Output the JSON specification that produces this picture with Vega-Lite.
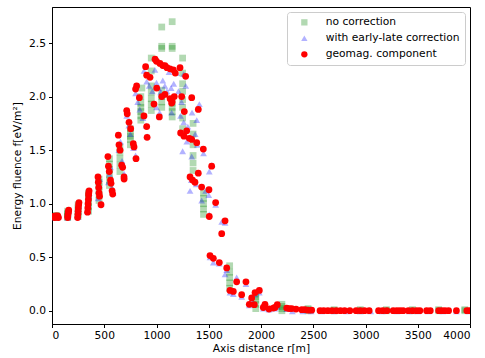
{
  "$schema": "https://vega.github.io/schema/vega-lite/v6.json",
  "width": 418,
  "height": 317,
  "autosize": {"type": "none"},
  "padding": {"left": 52, "top": 7, "right": 15, "bottom": 34},
  "background": "white",
  "config": {
    "font": "DejaVu Sans",
    "view": {"stroke": "black", "strokeWidth": 1},
    "axis": {"grid": false, "domainColor": "black", "tickColor": "black", "tickSize": 3.5, "labelFontSize": 10.7, "titleFontSize": 10.7, "labelColor": "black", "titleColor": "black", "titleFontWeight": "normal", "labelFont": "DejaVu Sans", "titleFont": "DejaVu Sans"}
  },
  "data": {"values": [
    {"s":"no correction","r":40,"f":0.87},{"s":"no correction","r":40,"f":0.875},{"s":"no correction","r":40,"f":0.88},{"s":"no correction","r":40,"f":0.885},{"s":"no correction","r":40,"f":0.89},
    {"s":"no correction","r":150,"f":0.87},{"s":"no correction","r":150,"f":0.88},{"s":"no correction","r":150,"f":0.9},{"s":"no correction","r":150,"f":0.91},{"s":"no correction","r":150,"f":0.93},
    {"s":"no correction","r":250,"f":0.88},{"s":"no correction","r":250,"f":0.9},{"s":"no correction","r":250,"f":0.93},{"s":"no correction","r":250,"f":0.96},{"s":"no correction","r":250,"f":0.99},
    {"s":"no correction","r":350,"f":0.93},{"s":"no correction","r":350,"f":0.97},{"s":"no correction","r":350,"f":1.01},{"s":"no correction","r":350,"f":1.05},{"s":"no correction","r":350,"f":1.08},{"s":"no correction","r":350,"f":1.1},
    {"s":"no correction","r":450,"f":1.03},{"s":"no correction","r":450,"f":1.08},{"s":"no correction","r":450,"f":1.12},{"s":"no correction","r":450,"f":1.16},{"s":"no correction","r":450,"f":1.2},{"s":"no correction","r":450,"f":1.23},
    {"s":"no correction","r":550,"f":1.17},{"s":"no correction","r":550,"f":1.22},{"s":"no correction","r":550,"f":1.27},{"s":"no correction","r":550,"f":1.32},{"s":"no correction","r":550,"f":1.37},{"s":"no correction","r":550,"f":1.42},
    {"s":"no correction","r":650,"f":1.3},{"s":"no correction","r":650,"f":1.36},{"s":"no correction","r":650,"f":1.42},{"s":"no correction","r":650,"f":1.48},{"s":"no correction","r":650,"f":1.53},
    {"s":"no correction","r":750,"f":1.55},{"s":"no correction","r":750,"f":1.6},{"s":"no correction","r":750,"f":1.63},{"s":"no correction","r":750,"f":1.66},{"s":"no correction","r":750,"f":1.7},
    {"s":"no correction","r":850,"f":1.78},{"s":"no correction","r":850,"f":1.82},{"s":"no correction","r":850,"f":1.86},{"s":"no correction","r":850,"f":1.9},{"s":"no correction","r":850,"f":1.94},{"s":"no correction","r":850,"f":2.0},{"s":"no correction","r":860,"f":2.08},
    {"s":"no correction","r":950,"f":1.87},{"s":"no correction","r":950,"f":1.93},{"s":"no correction","r":950,"f":1.98},{"s":"no correction","r":950,"f":2.04},{"s":"no correction","r":950,"f":2.1},{"s":"no correction","r":950,"f":2.24},{"s":"no correction","r":950,"f":2.36},
    {"s":"no correction","r":1050,"f":1.9},{"s":"no correction","r":1050,"f":1.95},{"s":"no correction","r":1050,"f":2.0},{"s":"no correction","r":1050,"f":2.06},{"s":"no correction","r":1050,"f":2.45},{"s":"no correction","r":1050,"f":2.47},{"s":"no correction","r":1050,"f":2.65},
    {"s":"no correction","r":1150,"f":1.81},{"s":"no correction","r":1150,"f":1.86},{"s":"no correction","r":1150,"f":1.9},{"s":"no correction","r":1150,"f":1.94},{"s":"no correction","r":1150,"f":2.45},{"s":"no correction","r":1150,"f":2.47},{"s":"no correction","r":1150,"f":2.7},
    {"s":"no correction","r":1250,"f":1.7},{"s":"no correction","r":1250,"f":1.8},{"s":"no correction","r":1250,"f":1.9},{"s":"no correction","r":1250,"f":1.97},{"s":"no correction","r":1250,"f":2.05},{"s":"no correction","r":1250,"f":2.12},{"s":"no correction","r":1250,"f":2.22},{"s":"no correction","r":1250,"f":2.36},
    {"s":"no correction","r":1350,"f":1.31},{"s":"no correction","r":1350,"f":1.38},{"s":"no correction","r":1350,"f":1.45},{"s":"no correction","r":1350,"f":1.55},{"s":"no correction","r":1350,"f":1.65},{"s":"no correction","r":1350,"f":1.75},
    {"s":"no correction","r":1450,"f":0.9},{"s":"no correction","r":1450,"f":0.95},{"s":"no correction","r":1450,"f":1.0},{"s":"no correction","r":1450,"f":1.05},{"s":"no correction","r":1450,"f":1.1},
    {"s":"no correction","r":1700,"f":0.21},{"s":"no correction","r":1700,"f":0.26},{"s":"no correction","r":1700,"f":0.31},{"s":"no correction","r":1700,"f":0.36},{"s":"no correction","r":1700,"f":0.42},
    {"s":"no correction","r":1950,"f":0.02},{"s":"no correction","r":1950,"f":0.06},{"s":"no correction","r":1950,"f":0.1},{"s":"no correction","r":1950,"f":0.13},{"s":"no correction","r":1950,"f":0.16},
    {"s":"no correction","r":2200,"f":0.0},{"s":"no correction","r":2200,"f":0.02},{"s":"no correction","r":2200,"f":0.04},{"s":"no correction","r":2200,"f":0.06},
    {"s":"no correction","r":2450,"f":0.0},{"s":"no correction","r":2450,"f":0.01},{"s":"no correction","r":2450,"f":0.02},
    {"s":"no correction","r":2700,"f":0.0},{"s":"no correction","r":2700,"f":0.01},
    {"s":"no correction","r":2950,"f":0.0},{"s":"no correction","r":2950,"f":0.01},
    {"s":"no correction","r":3200,"f":0.0},{"s":"no correction","r":3200,"f":0.01},
    {"s":"no correction","r":3450,"f":0.0},{"s":"no correction","r":3450,"f":0.01},
    {"s":"no correction","r":3700,"f":0.0},{"s":"no correction","r":3700,"f":0.01},
    {"s":"no correction","r":3950,"f":0.0},{"s":"no correction","r":3950,"f":0.01},

    {"s":"with early-late correction","r":30,"f":0.87},{"s":"with early-late correction","r":45,"f":0.875},{"s":"with early-late correction","r":55,"f":0.88},
    {"s":"with early-late correction","r":150,"f":0.87},{"s":"with early-late correction","r":155,"f":0.9},{"s":"with early-late correction","r":160,"f":0.93},
    {"s":"with early-late correction","r":248,"f":0.88},{"s":"with early-late correction","r":252,"f":0.93},{"s":"with early-late correction","r":256,"f":0.98},
    {"s":"with early-late correction","r":343,"f":0.93},{"s":"with early-late correction","r":348,"f":1.0},{"s":"with early-late correction","r":353,"f":1.07},{"s":"with early-late correction","r":356,"f":1.1},
    {"s":"with early-late correction","r":440,"f":1.05},{"s":"with early-late correction","r":445,"f":1.12},{"s":"with early-late correction","r":450,"f":1.18},{"s":"with early-late correction","r":455,"f":1.23},{"s":"with early-late correction","r":470,"f":1.0},
    {"s":"with early-late correction","r":540,"f":1.2},{"s":"with early-late correction","r":550,"f":1.28},{"s":"with early-late correction","r":560,"f":1.34},{"s":"with early-late correction","r":575,"f":1.15},{"s":"with early-late correction","r":585,"f":1.1},
    {"s":"with early-late correction","r":640,"f":1.5},{"s":"with early-late correction","r":655,"f":1.58},{"s":"with early-late correction","r":670,"f":1.4},{"s":"with early-late correction","r":690,"f":1.28},
    {"s":"with early-late correction","r":715,"f":1.82},{"s":"with early-late correction","r":735,"f":1.73},{"s":"with early-late correction","r":750,"f":1.65},{"s":"with early-late correction","r":780,"f":1.52},{"s":"with early-late correction","r":800,"f":1.45},
    {"s":"with early-late correction","r":800,"f":2.03},{"s":"with early-late correction","r":820,"f":1.95},{"s":"with early-late correction","r":840,"f":1.88},{"s":"with early-late correction","r":870,"f":1.8},{"s":"with early-late correction","r":900,"f":1.73},{"s":"with early-late correction","r":910,"f":1.63},
    {"s":"with early-late correction","r":880,"f":2.24},{"s":"with early-late correction","r":906,"f":2.14},{"s":"with early-late correction","r":930,"f":2.1},{"s":"with early-late correction","r":960,"f":2.05},{"s":"with early-late correction","r":985,"f":2.25},{"s":"with early-late correction","r":1000,"f":2.13},{"s":"with early-late correction","r":1020,"f":2.08},{"s":"with early-late correction","r":1040,"f":2.04},{"s":"with early-late correction","r":1060,"f":2.15},{"s":"with early-late correction","r":1080,"f":2.1},{"s":"with early-late correction","r":1100,"f":2.05},{"s":"with early-late correction","r":1120,"f":2.23},{"s":"with early-late correction","r":1140,"f":2.08},{"s":"with early-late correction","r":1165,"f":2.12},{"s":"with early-late correction","r":1190,"f":2.22},{"s":"with early-late correction","r":1210,"f":2.05},{"s":"with early-late correction","r":1240,"f":1.95},{"s":"with early-late correction","r":1260,"f":2.21},{"s":"with early-late correction","r":1280,"f":2.1},
    {"s":"with early-late correction","r":1000,"f":1.9},{"s":"with early-late correction","r":1030,"f":1.85},{"s":"with early-late correction","r":1145,"f":1.85},{"s":"with early-late correction","r":1230,"f":1.82},{"s":"with early-late correction","r":1260,"f":1.76},{"s":"with early-late correction","r":1300,"f":1.72},{"s":"with early-late correction","r":1340,"f":1.85},{"s":"with early-late correction","r":1385,"f":1.78},{"s":"with early-late correction","r":1410,"f":1.93},{"s":"with early-late correction","r":1370,"f":1.65},
    {"s":"with early-late correction","r":1250,"f":1.49},{"s":"with early-late correction","r":1290,"f":1.58},{"s":"with early-late correction","r":1337,"f":1.44},{"s":"with early-late correction","r":1390,"f":1.55},{"s":"with early-late correction","r":1450,"f":1.47},{"s":"with early-late correction","r":1505,"f":1.3},{"s":"with early-late correction","r":1530,"f":1.36},
    {"s":"with early-late correction","r":1321,"f":1.12},{"s":"with early-late correction","r":1333,"f":1.22},{"s":"with early-late correction","r":1380,"f":1.18},{"s":"with early-late correction","r":1432,"f":1.03},{"s":"with early-late correction","r":1470,"f":1.12},{"s":"with early-late correction","r":1500,"f":1.08},
    {"s":"with early-late correction","r":1505,"f":0.9},{"s":"with early-late correction","r":1566,"f":0.99},{"s":"with early-late correction","r":1624,"f":0.83},{"s":"with early-late correction","r":1656,"f":0.82},
    {"s":"with early-late correction","r":1512,"f":0.5},{"s":"with early-late correction","r":1544,"f":0.45},{"s":"with early-late correction","r":1600,"f":0.44},{"s":"with early-late correction","r":1656,"f":0.34},{"s":"with early-late correction","r":1672,"f":0.38},
    {"s":"with early-late correction","r":1703,"f":0.17},{"s":"with early-late correction","r":1735,"f":0.155},{"s":"with early-late correction","r":1767,"f":0.31},{"s":"with early-late correction","r":1815,"f":0.13},{"s":"with early-late correction","r":1856,"f":0.25},{"s":"with early-late correction","r":1888,"f":0.05},{"s":"with early-late correction","r":1911,"f":0.1},{"s":"with early-late correction","r":1943,"f":0.15},{"s":"with early-late correction","r":1984,"f":0.17},
    {"s":"with early-late correction","r":2022,"f":0.02},{"s":"with early-late correction","r":2077,"f":0.01},{"s":"with early-late correction","r":2134,"f":0.02},{"s":"with early-late correction","r":2156,"f":0.04},{"s":"with early-late correction","r":2246,"f":0.015},
    {"s":"with early-late correction","r":2300,"f":-0.005},{"s":"with early-late correction","r":2400,"f":-0.005},{"s":"with early-late correction","r":2480,"f":-0.005},{"s":"with early-late correction","r":2580,"f":-0.005},{"s":"with early-late correction","r":2700,"f":-0.005},{"s":"with early-late correction","r":2820,"f":-0.005},{"s":"with early-late correction","r":2950,"f":-0.005},{"s":"with early-late correction","r":3050,"f":-0.005},{"s":"with early-late correction","r":3160,"f":-0.005},{"s":"with early-late correction","r":3300,"f":-0.005},{"s":"with early-late correction","r":3420,"f":-0.005},{"s":"with early-late correction","r":3500,"f":-0.005},{"s":"with early-late correction","r":3600,"f":-0.005},{"s":"with early-late correction","r":3740,"f":-0.005},{"s":"with early-late correction","r":3870,"f":-0.005},{"s":"with early-late correction","r":3990,"f":-0.005},

    {"s":"geomag. component","r":12,"f":0.88},{"s":"geomag. component","r":25,"f":0.87},{"s":"geomag. component","r":35,"f":0.885},{"s":"geomag. component","r":45,"f":0.875},{"s":"geomag. component","r":55,"f":0.885},{"s":"geomag. component","r":62,"f":0.87},
    {"s":"geomag. component","r":150,"f":0.87},{"s":"geomag. component","r":152,"f":0.89},{"s":"geomag. component","r":155,"f":0.91},{"s":"geomag. component","r":158,"f":0.93},{"s":"geomag. component","r":160,"f":0.94},
    {"s":"geomag. component","r":245,"f":0.87},{"s":"geomag. component","r":248,"f":0.9},{"s":"geomag. component","r":250,"f":0.93},{"s":"geomag. component","r":252,"f":0.96},{"s":"geomag. component","r":255,"f":0.99},{"s":"geomag. component","r":258,"f":1.01},
    {"s":"geomag. component","r":340,"f":0.92},{"s":"geomag. component","r":343,"f":0.96},{"s":"geomag. component","r":345,"f":1.0},{"s":"geomag. component","r":348,"f":1.04},{"s":"geomag. component","r":350,"f":1.08},{"s":"geomag. component","r":352,"f":1.1},{"s":"geomag. component","r":355,"f":1.12},
    {"s":"geomag. component","r":440,"f":1.25},{"s":"geomag. component","r":443,"f":1.2},{"s":"geomag. component","r":447,"f":1.15},{"s":"geomag. component","r":450,"f":1.1},{"s":"geomag. component","r":455,"f":1.07},{"s":"geomag. component","r":469,"f":0.99},
    {"s":"geomag. component","r":535,"f":1.44},{"s":"geomag. component","r":540,"f":1.35},{"s":"geomag. component","r":548,"f":1.3},{"s":"geomag. component","r":560,"f":1.22},{"s":"geomag. component","r":565,"f":1.19},{"s":"geomag. component","r":575,"f":1.12},{"s":"geomag. component","r":581,"f":1.09},
    {"s":"geomag. component","r":635,"f":1.64},{"s":"geomag. component","r":641,"f":1.55},{"s":"geomag. component","r":651,"f":1.5},{"s":"geomag. component","r":667,"f":1.36},{"s":"geomag. component","r":676,"f":1.34},{"s":"geomag. component","r":689,"f":1.25},{"s":"geomag. component","r":690,"f":1.23},
    {"s":"geomag. component","r":715,"f":1.87},{"s":"geomag. component","r":720,"f":1.84},{"s":"geomag. component","r":737,"f":1.76},{"s":"geomag. component","r":753,"f":1.7},{"s":"geomag. component","r":778,"f":1.56},{"s":"geomag. component","r":785,"f":1.53},{"s":"geomag. component","r":804,"f":1.42},
    {"s":"geomag. component","r":800,"f":2.07},{"s":"geomag. component","r":810,"f":2.1},{"s":"geomag. component","r":836,"f":1.99},{"s":"geomag. component","r":880,"f":1.82},{"s":"geomag. component","r":906,"f":1.72},{"s":"geomag. component","r":910,"f":1.62},
    {"s":"geomag. component","r":896,"f":2.28},{"s":"geomag. component","r":906,"f":2.2},{"s":"geomag. component","r":938,"f":2.18},{"s":"geomag. component","r":976,"f":1.93},{"s":"geomag. component","r":1002,"f":2.08},{"s":"geomag. component","r":1027,"f":1.81},
    {"s":"geomag. component","r":986,"f":2.35},{"s":"geomag. component","r":1000,"f":2.33},{"s":"geomag. component","r":1033,"f":2.31},{"s":"geomag. component","r":1060,"f":2.29},{"s":"geomag. component","r":1081,"f":2.29},{"s":"geomag. component","r":1100,"f":2.27},{"s":"geomag. component","r":1129,"f":2.26},{"s":"geomag. component","r":1161,"f":2.25},{"s":"geomag. component","r":1180,"f":2.22},
    {"s":"geomag. component","r":1050,"f":2.0},{"s":"geomag. component","r":1081,"f":2.02},{"s":"geomag. component","r":1130,"f":1.98},{"s":"geomag. component","r":1150,"f":1.95},{"s":"geomag. component","r":1170,"f":2.0},{"s":"geomag. component","r":1145,"f":1.94},
    {"s":"geomag. component","r":1225,"f":2.27},{"s":"geomag. component","r":1241,"f":2.0},{"s":"geomag. component","r":1279,"f":2.19},{"s":"geomag. component","r":1337,"f":1.99},{"s":"geomag. component","r":1400,"f":1.88},{"s":"geomag. component","r":1266,"f":1.86},
    {"s":"geomag. component","r":1231,"f":1.66},{"s":"geomag. component","r":1263,"f":1.63},{"s":"geomag. component","r":1289,"f":1.68},{"s":"geomag. component","r":1314,"f":1.61},{"s":"geomag. component","r":1337,"f":1.6},{"s":"geomag. component","r":1385,"f":1.57},{"s":"geomag. component","r":1448,"f":1.51},{"s":"geomag. component","r":1528,"f":1.35},
    {"s":"geomag. component","r":1321,"f":1.25},{"s":"geomag. component","r":1345,"f":1.22},{"s":"geomag. component","r":1368,"f":1.2},{"s":"geomag. component","r":1400,"f":1.285},{"s":"geomag. component","r":1432,"f":1.155},{"s":"geomag. component","r":1502,"f":1.13},{"s":"geomag. component","r":1505,"f":0.88},{"s":"geomag. component","r":1566,"f":1.01},
    {"s":"geomag. component","r":1512,"f":0.515},{"s":"geomag. component","r":1544,"f":0.49},{"s":"geomag. component","r":1601,"f":0.45},{"s":"geomag. component","r":1624,"f":0.72},{"s":"geomag. component","r":1656,"f":0.84},{"s":"geomag. component","r":1672,"f":0.4},
    {"s":"geomag. component","r":1703,"f":0.19},{"s":"geomag. component","r":1735,"f":0.18},{"s":"geomag. component","r":1767,"f":0.27},{"s":"geomag. component","r":1815,"f":0.15},{"s":"geomag. component","r":1856,"f":0.27},{"s":"geomag. component","r":1888,"f":0.06},
    {"s":"geomag. component","r":1911,"f":0.12},{"s":"geomag. component","r":1943,"f":0.17},{"s":"geomag. component","r":1984,"f":0.19},{"s":"geomag. component","r":1936,"f":0.056},{"s":"geomag. component","r":2022,"f":0.03},{"s":"geomag. component","r":2038,"f":0.06},{"s":"geomag. component","r":2077,"f":0.016},{"s":"geomag. component","r":2118,"f":0.025},{"s":"geomag. component","r":2134,"f":0.03},{"s":"geomag. component","r":2156,"f":0.056},
    {"s":"geomag. component","r":2246,"f":0.025},{"s":"geomag. component","r":2270,"f":0.02},{"s":"geomag. component","r":2294,"f":0.02},{"s":"geomag. component","r":2335,"f":0.015},{"s":"geomag. component","r":2390,"f":0.01},{"s":"geomag. component","r":2420,"f":0.01},{"s":"geomag. component","r":2450,"f":0.005},{"s":"geomag. component","r":2485,"f":0.005},
    {"s":"geomag. component","r":2565,"f":0.0},{"s":"geomag. component","r":2600,"f":0.0},{"s":"geomag. component","r":2640,"f":0.0},{"s":"geomag. component","r":2680,"f":0.0},{"s":"geomag. component","r":2720,"f":0.0},{"s":"geomag. component","r":2760,"f":0.0},{"s":"geomag. component","r":2800,"f":0.0},{"s":"geomag. component","r":2850,"f":0.0},
    {"s":"geomag. component","r":2910,"f":0.0},{"s":"geomag. component","r":2950,"f":0.0},{"s":"geomag. component","r":2990,"f":0.0},{"s":"geomag. component","r":3035,"f":0.0},{"s":"geomag. component","r":3125,"f":0.0},{"s":"geomag. component","r":3165,"f":0.0},{"s":"geomag. component","r":3205,"f":0.0},
    {"s":"geomag. component","r":3265,"f":0.0},{"s":"geomag. component","r":3300,"f":0.0},{"s":"geomag. component","r":3330,"f":0.0},{"s":"geomag. component","r":3360,"f":0.0},{"s":"geomag. component","r":3410,"f":0.0},{"s":"geomag. component","r":3450,"f":0.0},{"s":"geomag. component","r":3490,"f":0.0},{"s":"geomag. component","r":3520,"f":0.0},
    {"s":"geomag. component","r":3585,"f":0.0},{"s":"geomag. component","r":3620,"f":0.0},{"s":"geomag. component","r":3700,"f":0.0},{"s":"geomag. component","r":3730,"f":0.0},{"s":"geomag. component","r":3760,"f":0.0},{"s":"geomag. component","r":3795,"f":0.0},{"s":"geomag. component","r":3870,"f":0.0},{"s":"geomag. component","r":3970,"f":0.0},{"s":"geomag. component","r":3995,"f":0.0}
  ]},
  "mark": {"type": "point", "filled": true, "size": 46, "opacity": 1, "strokeWidth": 0, "clip": true},
  "encoding": {
    "x": {"field": "r", "type": "quantitative", "title": "Axis distance r[m]",
      "scale": {"domain": [0, 4000], "nice": false, "zero": false},
      "axis": {"values": [0, 500, 1000, 1500, 2000, 2500, 3000, 3500, 4000], "format": "d", "titlePadding": 3, "labelPadding": 3}},
    "y": {"field": "f", "type": "quantitative", "title": "Energy fluence f[eV/m²]",
      "scale": {"domain": [-0.124, 2.837], "nice": false, "zero": false},
      "axis": {"values": [0, 0.5, 1, 1.5, 2, 2.5], "format": ".1f", "titlePadding": 6, "labelPadding": 3}},
    "color": {"field": "s", "type": "nominal",
      "scale": {"domain": ["no correction", "with early-late correction", "geomag. component"], "range": ["rgba(0,128,0,0.3)", "rgba(0,0,255,0.3)", "#ff0000"]},
      "legend": {"title": null, "orient": "top-right", "offset": 5, "padding": 5, "fillColor": "white", "strokeColor": "#cccccc", "cornerRadius": 3, "symbolOffset": 7, "labelOffset": 16, "rowPadding": 4, "labelFontSize": 10.7, "labelFont": "DejaVu Sans", "labelColor": "black", "symbolSize": 40, "symbolStrokeWidth": 0, "symbolOpacity": 1}},
    "shape": {"field": "s", "type": "nominal",
      "scale": {"domain": ["no correction", "with early-late correction", "geomag. component"], "range": ["square", "triangle-up", "circle"]}}
  }
}
